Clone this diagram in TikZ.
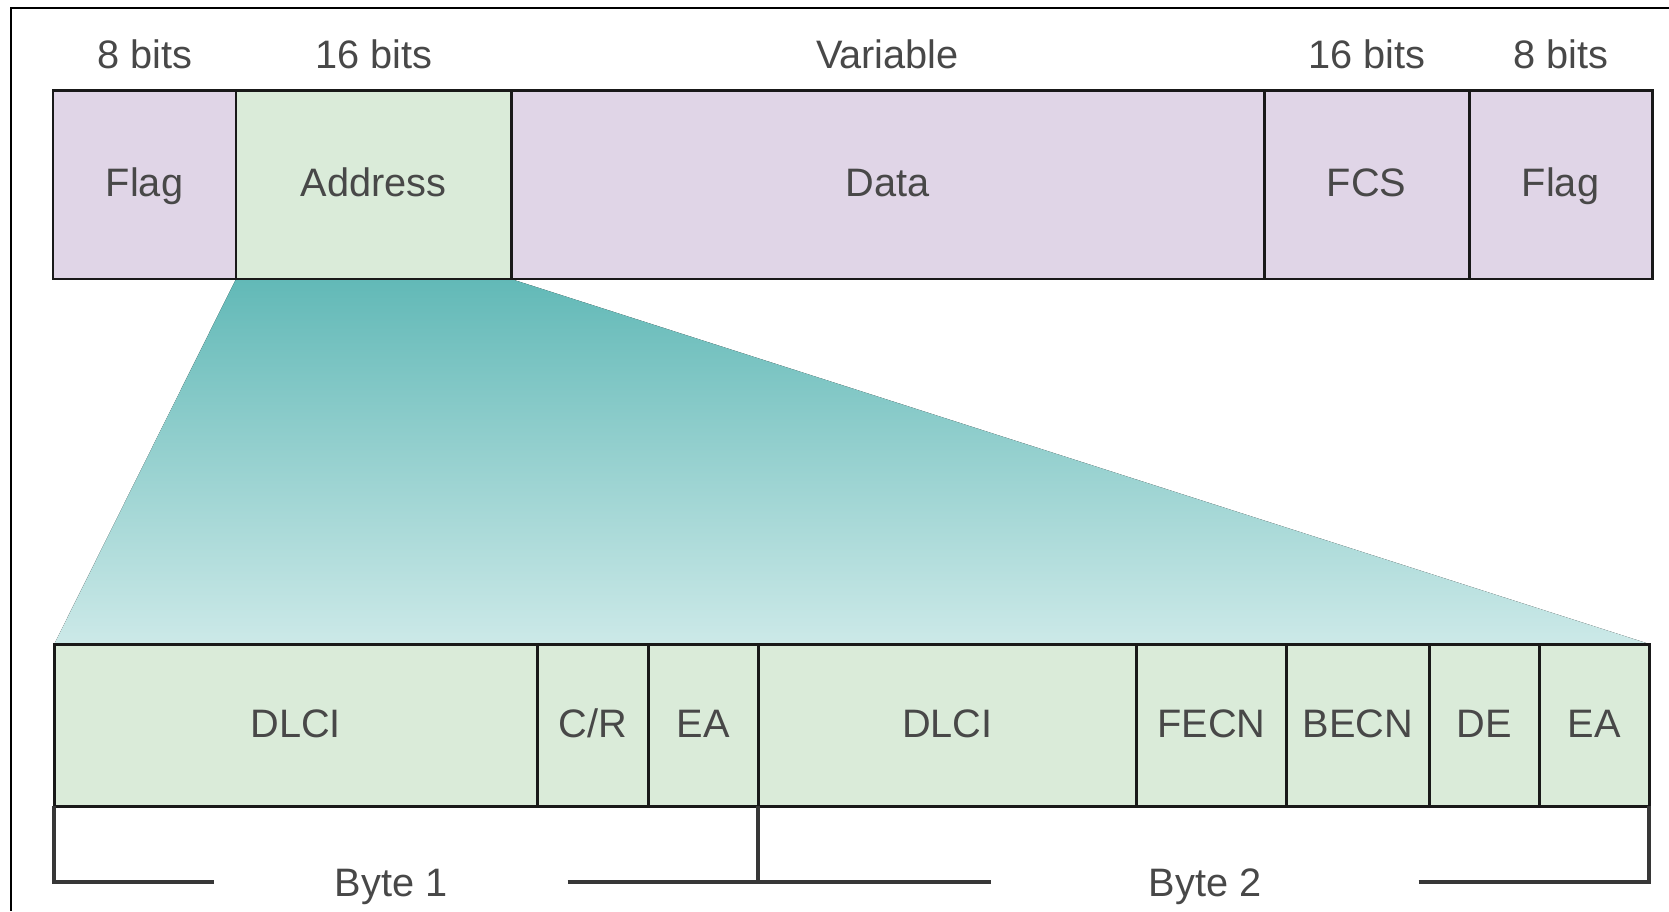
\documentclass[tikz,border=0pt]{standalone}
\usepackage{fontspec}
\setmainfont{Liberation Sans}
\usetikzlibrary{positioning,backgrounds}

\definecolor{fieldpurple}{RGB}{224,213,231}
\definecolor{fieldgreen}{RGB}{218,235,217}
\definecolor{tealdark}{RGB}{98,185,183}
\definecolor{teallight}{RGB}{204,233,232}
\definecolor{textgray}{RGB}{72,72,72}
\definecolor{linegray}{RGB}{55,55,55}

\begin{document}
\begin{tikzpicture}[
    node distance=0pt,
    every node/.style={font=\fontsize{11.3}{13}\selectfont, text=textgray},
    field/.style={draw=black!90, line width=0.85pt, outer sep=0pt, inner sep=0pt, text height=0.29cm, text depth=0.05cm},
    topfield/.style={field, fill=fieldpurple, minimum height=1.885cm},
    addrfield/.style={field, fill=fieldgreen, minimum height=1.885cm},
    subfield/.style={field, fill=fieldgreen, minimum height=1.62cm},
    bits/.style={inner sep=0pt, text height=0.29cm, text depth=0cm},
    bytelabel/.style={inner sep=0pt, minimum width=#1, text height=0.29cm, text depth=0cm},
    bracket/.style={draw=linegray, line width=1.2pt}
]
\useasboundingbox (0,0) rectangle (16.69,9.11);

% frame
\draw[line width=0.6pt, black] (16.69,9.03) -- (0.11,9.03) -- (0.11,0);

% frame relay frame
\node[topfield, minimum width=1.83cm, anchor=north west] (flag1) at (0.53,8.205) {Flag};
\node[addrfield, minimum width=2.75cm, right=of flag1] (address) {Address};
\node[topfield, minimum width=7.53cm, right=of address] (data) {Data};
\node[topfield, minimum width=2.05cm, right=of data] (fcs) {FCS};
\node[topfield, minimum width=1.83cm, right=of fcs] (flag2) {Flag};

\node[bits, above=0.21cm of flag1] (bits1) {8 bits};
\node[bits, above=0.21cm of address] (bits2) {16 bits};
\node[bits, above=0.21cm of data] (bits3) {Variable};
\node[bits, above=0.21cm of fcs] (bits4) {16 bits};
\node[bits, above=0.21cm of flag2] (bits5) {8 bits};

% address field
\node[subfield, minimum width=4.83cm, anchor=north west] (dlci1) at (0.543,2.67) {DLCI};
\node[subfield, minimum width=1.11cm, right=of dlci1] (cr) {C/R};
\node[subfield, minimum width=1.10cm, right=of cr] (ea1) {EA};
\node[subfield, minimum width=3.78cm, right=of ea1] (dlci2) {DLCI};
\node[subfield, minimum width=1.50cm, right=of dlci2] (fecn) {FECN};
\node[subfield, minimum width=1.43cm, right=of fecn] (becn) {BECN};
\node[subfield, minimum width=1.10cm, right=of becn] (de) {DE};
\node[subfield, minimum width=1.10cm, right=of de] (ea2) {EA};

\begin{scope}[on background layer]
\fill[top color=tealdark, bottom color=teallight] (address.south west) -- (address.south east) -- (ea2.north east) -- (dlci1.north west) -- cycle;
\end{scope}

% bytes
\node[bytelabel=3.52cm] (byte1) at (3.91,0.29) {Byte 1};
\node[bytelabel=4.26cm] (byte2) at (12.05,0.29) {Byte 2};
\draw[bracket] (dlci1.south west) |- (byte1.west);
\draw[bracket] (byte1.east) -| (ea1.south east);
\draw[bracket] (ea1.south east) |- (byte2.west);
\draw[bracket] (byte2.east) -| (ea2.south east);
\end{tikzpicture}
\end{document}
